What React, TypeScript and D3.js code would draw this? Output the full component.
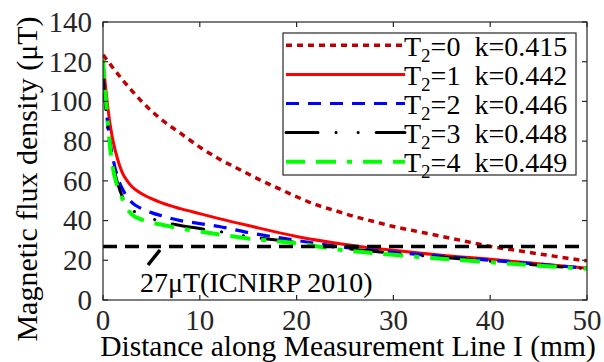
import React from "react";
import * as d3 from "d3";

const xs1 = [0, 0.25, 0.5, 0.75, 1, 1.5, 2, 2.5, 3, 4, 5, 6, 8, 10, 12, 15, 20, 25, 30, 35, 40, 45, 50];
const t1 = [120, 108, 97, 88, 81, 71, 64, 60, 57, 53.5, 51, 49, 46, 43.5, 41, 37.5, 32, 28, 25, 22.5, 20.5, 18.3, 16];
const t2 = [114, 100, 88, 79, 72, 62, 56, 52, 49, 46, 44, 42.5, 40, 38.5, 37, 34, 30, 26.5, 24, 22, 20, 18, 16];
const t3 = [112, 98, 86, 76, 69, 59, 52, 48, 45.5, 42.5, 41, 39.5, 37.5, 36, 34.5, 32, 29, 26, 23.5, 21.5, 19.5, 17.5, 15.8];
const t4 = [121, 104, 89, 76, 67, 57, 51, 46, 43, 40.5, 39, 38, 36, 34.5, 33, 31, 28.5, 25, 22.8, 20.8, 19, 17.3, 15.7];
const xs0 = [0, 2, 4, 6, 8, 10, 12, 14, 16, 18, 20, 22, 24, 26, 28, 30, 32, 34, 36, 38, 40, 42, 44, 46, 48, 50];
const t0 = [123.5, 111, 100, 91, 84, 77, 71, 66, 61, 56.5, 52, 48, 45, 42, 39.5, 37, 35, 33, 31, 29, 27, 25.5, 24, 22.5, 21, 19.7];

const xTicks = [0, 10, 20, 30, 40, 50];
const yTicks = [0, 20, 40, 60, 80, 100, 120, 140];
const limit = 27;
const t2Labels = ["0", "1", "2", "3", "4"];
const kLabels = ["0.415", "0.442", "0.446", "0.448", "0.449"];

const series = [
  { xs: xs0, ys: t0, color: "#c00000", width: 3.5, dash: "6,5", cap: "butt" },
  { xs: xs1, ys: t1, color: "#ff0000", width: 3, dash: "", cap: "butt" },
  { xs: xs1, ys: t2, color: "#0000ff", width: 3.2, dash: "13,9", cap: "butt" },
  { xs: xs1, ys: t3, color: "#000000", width: 3, dash: "32,18,0.1,22,0.1,18", cap: "round" },
  { xs: xs1, ys: t4, color: "#00ff00", width: 4, dash: "19,11,20,11,5,11", cap: "butt" },
];

const W = 604, H = 362;
const L = 103, R = 587, T = 22, B = 300;
const FONT = "Liberation Serif, Times New Roman, Times, DejaVu Serif, serif";
const ts = { fontFamily: FONT };

export default function App() {
  const x = d3.scaleLinear().domain([0, 50]).range([L, R]);
  const y = d3.scaleLinear().domain([0, 140]).range([B, T]);
  const line = d3.line<[number, number]>().x(d => x(d[0])).y(d => y(d[1])).curve(d3.curveMonotoneX);
  const axisColor = "#262626";
  const legX0 = 286, legX1 = 405, legY0 = 45.3, legDy = 29.1;
  return (
    <svg width={W} height={H} style={{ position: "absolute", left: 0, top: 0, background: "#fff", fontFamily: FONT }}>
      <rect x={0} y={0} width={W} height={H} fill="#fff" />
      <defs>
        <clipPath id="plot">
          <rect x={L} y={T} width={R - L} height={B - T} />
        </clipPath>
      </defs>
      <g clipPath="url(#plot)">
        {series.map((s, i) => (
          <path key={i} d={line(s.xs.map((v, j) => [v, s.ys[j]] as [number, number])) || ""}
            fill="none" stroke={s.color} strokeWidth={s.width} strokeDasharray={s.dash || undefined}
            strokeLinecap={s.cap as any} strokeLinejoin="round" />
        ))}
        <line x1={x(0)} x2={x(50)} y1={y(limit)} y2={y(limit)} stroke="#000" strokeWidth={3.5} strokeDasharray="14,8" />
      </g>
      <line x1={160} y1={250} x2={148} y2={265} stroke="#000" strokeWidth={3.5} />
      <text x={140} y={292} fontSize={28} fill="#000" style={ts}>27μT(ICNIRP 2010)</text>
      <rect x={L} y={T} width={R - L} height={B - T} fill="none" stroke={axisColor} strokeWidth={1.2} />
      {xTicks.map(t => (
        <g key={"x" + t}>
          <line x1={x(t)} x2={x(t)} y1={B} y2={B - 5} stroke={axisColor} strokeWidth={1.2} />
          <line x1={x(t)} x2={x(t)} y1={T} y2={T + 5} stroke={axisColor} strokeWidth={1.2} />
          <text x={x(t)} y={330} fontSize={29} textAnchor="middle" fill={axisColor} style={ts}>{t}</text>
        </g>
      ))}
      {yTicks.map(t => (
        <g key={"y" + t}>
          <line x1={L} x2={L + 5} y1={y(t)} y2={y(t)} stroke={axisColor} strokeWidth={1.2} />
          <line x1={R} x2={R - 5} y1={y(t)} y2={y(t)} stroke={axisColor} strokeWidth={1.2} />
          <text x={92} y={y(t)} dy="0.34em" fontSize={29} textAnchor="end" fill={axisColor} style={ts}>{t}</text>
        </g>
      ))}
      <text x={348} y={356} fontSize={29.5} textAnchor="middle" fill="#000" style={ts}>Distance along Measurement Line I (mm)</text>
      <text transform="translate(37,179) rotate(-90)" fontSize={30} textAnchor="middle" fill="#000" style={ts}>Magnetic flux density (μT)</text>
      <rect x={283} y={33} width={293} height={142} fill="#fff" stroke={axisColor} strokeWidth={1.2} />
      {series.map((s, i) => {
        const cy = legY0 + i * legDy;
        return (
          <g key={"l" + i}>
            <line x1={legX0} x2={legX1} y1={cy} y2={cy} stroke={s.color} strokeWidth={s.width}
              strokeDasharray={s.dash || undefined} strokeLinecap={s.cap as any} />
            <text x={404} y={cy + 10.5} fontSize={28} fill="#000" style={ts}>
              T<tspan fontSize={19} dy={6}>2</tspan><tspan dy={-6}>={t2Labels[i]}</tspan><tspan dx={14}>k={kLabels[i]}</tspan>
            </text>
          </g>
        );
      })}
    </svg>
  );
}
